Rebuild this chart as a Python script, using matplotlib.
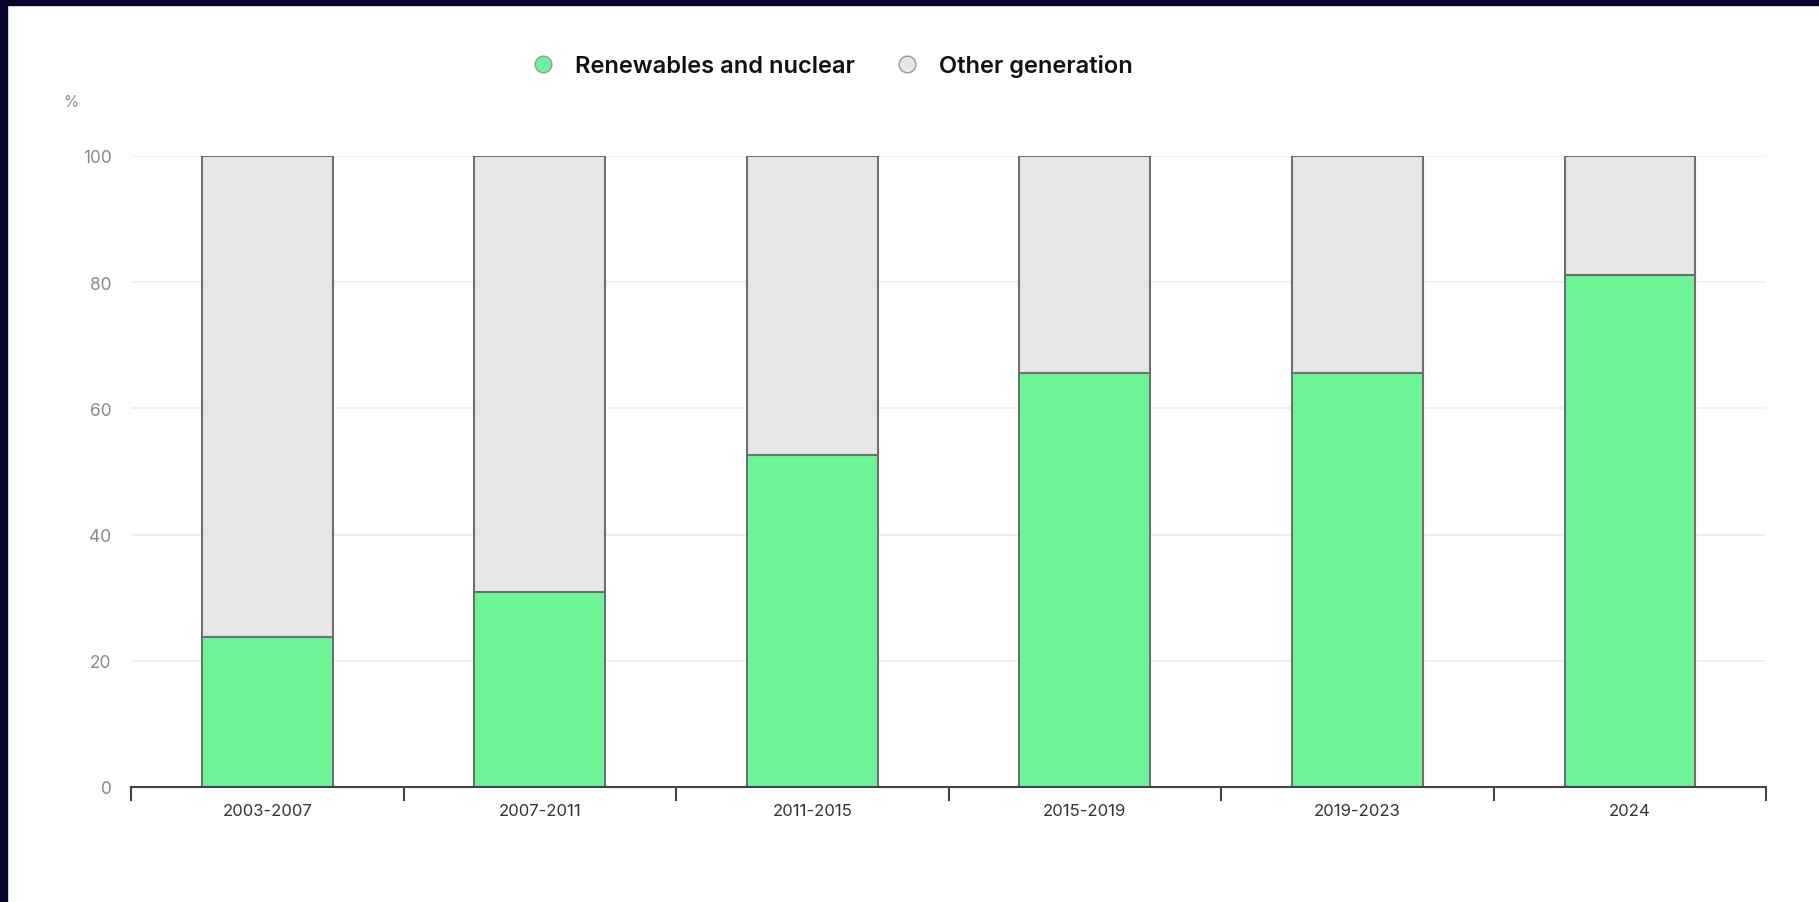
import matplotlib.pyplot as plt
from matplotlib.lines import Line2D
from matplotlib.patches import Rectangle

# Share of electricity generation by period
periods = ["2003-2007", "2007-2011", "2011-2015", "2015-2019", "2019-2023", "2024"]
renewables_nuclear = [23.7, 30.9, 52.6, 65.6, 65.6, 81.1]
other_generation = [100 - v for v in renewables_nuclear]

GREEN = "#6cf597"
GREY = "#e6e6e6"
EDGE = "#6f6f6f"
NAVY = "#06062a"

plt.rcParams["font.family"] = ["Inter", "DejaVu Sans"]

fig = plt.figure(figsize=(18.19, 9.03), dpi=100)
ax = fig.add_axes([0.072, 0.1274, 0.899, 0.6988])

x = range(len(periods))
ax.bar(x, renewables_nuclear, width=0.48, color=GREEN, edgecolor=EDGE, linewidth=1.5, zorder=3)
ax.bar(x, other_generation, bottom=renewables_nuclear, width=0.48, color=GREY,
       edgecolor=EDGE, linewidth=1.5, zorder=3)

ax.set_xlim(-0.5, len(periods) - 0.5)
ax.set_ylim(0, 100)
ax.set_yticks([0, 20, 40, 60, 80, 100])
ax.yaxis.grid(True, color="#eeeeee", linewidth=1.2, zorder=0)
ax.tick_params(axis="y", length=0, pad=14, labelsize=12.5, labelcolor="#8a8a8a")

ax.set_xticks(list(x))
ax.set_xticklabels(periods)
ax.set_xticks([i - 0.5 for i in range(len(periods) + 1)], minor=True)
ax.tick_params(axis="x", which="major", length=0, pad=11.5, labelsize=12, labelcolor="#333333")
ax.tick_params(axis="x", which="minor", length=10, width=1.5, color="#444444")

for side in ["top", "right", "left"]:
    ax.spines[side].set_visible(False)
ax.spines["bottom"].set_color("#444444")
ax.spines["bottom"].set_linewidth(1.5)
ax.spines["bottom"].set_zorder(4)

fig.text(0.035, 0.886, "%", fontsize=11, color="#8a8a8a", ha="left", va="center")

handles = [
    Line2D([], [], marker="o", linestyle="none", markersize=12, markerfacecolor=GREEN,
           markeredgecolor="#999999", markeredgewidth=1),
    Line2D([], [], marker="o", linestyle="none", markersize=12, markerfacecolor=GREY,
           markeredgecolor="#999999", markeredgewidth=1),
]
fig.legend(handles, ["Renewables and nuclear", "Other generation"], loc="center",
           bbox_to_anchor=(0.454, 0.926), ncol=2, frameon=False,
           prop={"size": 17, "weight": "semibold"},
           handletextpad=0.35, columnspacing=1.2, labelcolor="#111111")

# dark frame along the top and left edges
fig.patches.append(Rectangle((0, 1 - 6 / 903), 1, 6 / 903, transform=fig.transFigure,
                             color=NAVY, zorder=0))
fig.patches.append(Rectangle((0, 0), 7 / 1819, 1, transform=fig.transFigure,
                             color=NAVY, zorder=0))

fig.savefig("out.png", dpi=100)
